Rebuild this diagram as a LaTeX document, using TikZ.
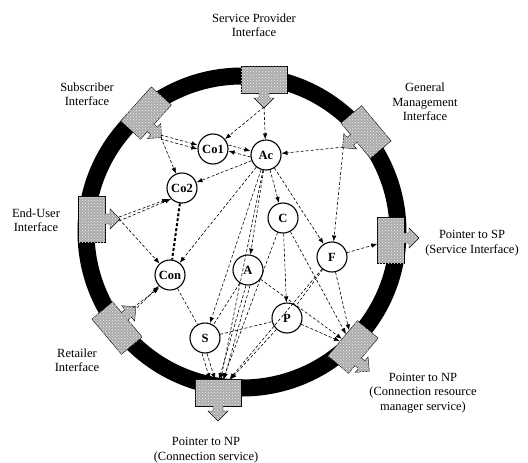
\documentclass[tikz,border=0pt]{standalone}
\usepackage{fontspec}
\setmainfont{Liberation Serif}
\usetikzlibrary{arrows.meta,patterns}

% interface block: name, centre, direction of its arrow, shift of the arrow along the side
\newcommand{\iface}[4]{%
  \node[ifbox, rotate=#3] (#1) at #2 {};
  \begin{scope}[shift={#2}, rotate=#3]
    \filldraw[tab] (13,#4-5) -- (18,#4-5) -- (18,#4-10) -- (28,#4) -- (18,#4+10) -- (18,#4+5) -- (13,#4+5);
    \coordinate (#1-tip) at (27,#4);
  \end{scope}}

\begin{document}
\begin{tikzpicture}[x=1pt, y=-1pt, thick,
    main/.style = {draw, circle, line width=1.1pt, fill=white, minimum size=30pt, inner sep=0pt, font=\bfseries\fontsize{12.5}{12.5}\selectfont},
    ifbox/.style = {draw, thin, fill=gray!65, postaction={pattern=crosshatch dots, pattern color=white!85!gray}, minimum width=27pt, minimum height=46pt, inner sep=0pt},
    tab/.style = {draw, thin, fill=gray!65, postaction={pattern=crosshatch dots, pattern color=white!85!gray}},
    lbl/.style = {align=center, font=\fontsize{12.5}{14.5}\selectfont},
    plain/.style = {line width=0.6pt, dash pattern=on 3pt off 2pt},
    link/.style = {plain, -{Latex[length=6pt,width=4.5pt]}},
    conbar/.style = {line width=2pt, dash pattern=on 3pt off 2pt}]
\useasboundingbox (0,0) rectangle (528,463);

% ring
\draw[line width=17pt] (242,232) circle [radius=156];

% interfaces on the ring
\iface{sp}{(264,80)}{-90}{0}
\iface{sub}{(146,113)}{-42}{8}
\iface{gm}{(366,132)}{-140}{3}
\iface{psp}{(391,240)}{0}{-2}
\iface{npr}{(353,347)}{-40}{8}
\iface{npc}{(218,393)}{-90}{0}
\iface{eu}{(92,219)}{0}{0}
\iface{ret}{(117,328)}{40}{-4}

% labels
\node[lbl] (splbl) at (254,25) {Service Provider\\Interface};
\node[lbl] (sublbl) at (87,94) {Subscriber\\Interface};
\node[lbl] (gmlbl) at (425,102) {General\\Management\\Interface};
\node[lbl] (psplbl) at (472,243) {Pointer to SP\\(Service Interface)};
\node[lbl] (eulbl) at (36,220) {End-User\\Interface};
\node[lbl] (retlbl) at (77,360) {Retailer\\Interface};
\node[lbl] (nprlbl) at (423,393) {Pointer to NP\\(Connection resource\\manager service)};
\node[lbl] (npclbl) at (206,450) {Pointer to NP\\(Connection service)};

% objects
\node[main] (co1) at (213,149) {Co1};
\node[main] (ac) at (266,155) {Ac};
\node[main] (co2) at (182,188) {Co2};
\node[main] (c) at (283,218) {C};
\node[main] (con) at (170,275) {Con};
\node[main] (a) at (248,270) {A};
\node[main] (f) at (332,257) {F};
\node[main] (p) at (287,318) {P};
\node[main] (s) at (205,338) {S};

% links
\draw[link] (sp-tip) -- (co1);
\draw[link] (sp-tip) -- (ac);
\draw[link] ([yshift=2]sub-tip) -- ([yshift=4]co1.west);
\draw[link] ([yshift=-2]sub-tip) -- ([yshift=0]co1.west);
\draw[link] (sub-tip) -- (co2);
\draw[link] ([yshift=4]co1.east) -- ([yshift=4]ac.west);
\draw[link] ([yshift=-2]ac.west) -- ([yshift=-2]co1.east);
\draw[link] (gm-tip) -- (ac);
\draw[link] (gm-tip) -- (f);
\draw[link] (ac) -- (co2);
\draw[link] (ac) -- (con);
\draw[link] (ac) -- (s);
\draw[link] (ac) -- (a);
\draw[link] (ac) -- (c);
\draw[link] (ac) -- (f);
\draw[link] (ac) -- (npc);
\draw[link] ([yshift=2]eu-tip) -- ([xshift=-3]co2.south west);
\draw[link] ([yshift=-2]eu-tip) -- (co2.south west);
\draw[link] (eu-tip) -- (con);
\draw[link] ([xshift=-2]ret-tip) -- ([yshift=-2]con.south west);
\draw[link] ([xshift=2]ret-tip) -- (con.south west);
\draw[conbar] (co2) -- (con);
\draw[plain] (con) -- (s);
\draw[link] (c) -- (p);
\draw[link] (c) -- (npc);
\draw[link] (c) -- (npr);
\draw[link] ([xshift=-2]a.south) -- ([xshift=1]npc.west);
\draw[link] ([xshift=2]a.south) -- ([xshift=6]npc.west);
\draw[link] (a) -- (npr);
\draw[plain] (a) -- (s);
\draw[link] (f) -- (psp);
\draw[link] (f) -- (npr);
\draw[plain] (f) -- (p);
\draw[link] (f) -- (npc);
\draw[link] (p) -- (npr);
\draw[link] (p) -- (npc);
\draw[plain] (s) -- (p);
\draw[link] ([xshift=-3]s.south) -- ([xshift=-8]npc.west);
\draw[link] ([xshift=2]s.south) -- ([xshift=-3]npc.west);
\end{tikzpicture}
\end{document}
